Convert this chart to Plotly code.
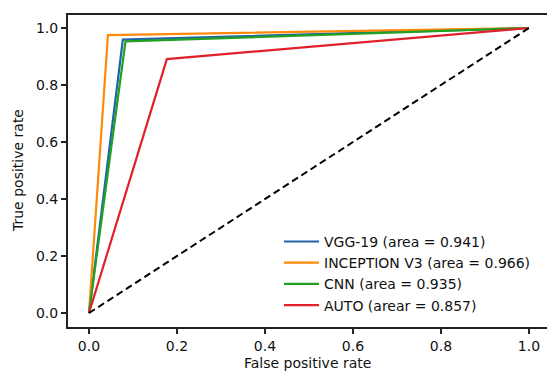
import plotly.graph_objects as go

# ROC data
series_names = ["VGG-19 (area = 0.941)", "INCEPTION V3 (area = 0.966)",
                "CNN (area = 0.935)", "AUTO (arear = 0.857)"]
fpr_vgg = [0.0, 0.077, 1.0]
tpr_vgg = [0.0, 0.959, 1.0]
fpr_inc = [0.0, 0.043, 1.0]
tpr_inc = [0.0, 0.975, 1.0]
fpr_cnn = [0.0, 0.083, 1.0]
tpr_cnn = [0.0, 0.953, 1.0]
fpr_auto = [0.0, 0.177, 1.0]
tpr_auto = [0.0, 0.891, 1.0]
diag_x = [0.0, 1.0]
diag_y = [0.0, 1.0]
tick_vals = [0.0, 0.2, 0.4, 0.6, 0.8, 1.0]
tick_text = ["0.0", "0.2", "0.4", "0.6", "0.8", "1.0"]
x_title = "False positive rate"
y_title = "True positive rate"

colors = ["#1f64a8", "#ff8a0a", "#22a022", "#e0202a"]
xs = [fpr_vgg, fpr_inc, fpr_cnn, fpr_auto]
ys = [tpr_vgg, tpr_inc, tpr_cnn, tpr_auto]

FONT = "DejaVu Sans"
INK = "#111111"
fig = go.Figure()
for name, x, y, c in zip(series_names, xs, ys, colors):
    fig.add_trace(go.Scatter(x=x, y=y, mode="lines", name=name,
                             line=dict(color=c, width=2.2)))
fig.add_trace(go.Scatter(x=diag_x, y=diag_y, mode="lines", showlegend=False,
                         line=dict(color="black", width=2, dash="7px,4px")))

axis_common = dict(tickvals=tick_vals, ticktext=tick_text, showgrid=False,
                   zeroline=False, showline=True, linecolor="#222222", linewidth=2,
                   ticks="outside", ticklen=5, tickwidth=1.5, tickcolor="#222222",
                   automargin=False, tickfont=dict(family=FONT, size=14, color=INK))

fig.update_layout(
    width=547, height=371,
    margin=dict(l=68, r=0, t=15, b=44),
    plot_bgcolor="white", paper_bgcolor="white",
    font=dict(family=FONT, size=14, color=INK),
    showlegend=True,
    legend=dict(x=0.4405, y=0.324, xanchor="left", yanchor="top",
                bgcolor="rgba(255,255,255,0)", borderwidth=0, itemwidth=35,
                font=dict(family=FONT, size=14, color=INK)),
    xaxis=dict(range=[-0.0477, 1.041], mirror=True, **axis_common),
    yaxis=dict(range=[-0.049, 1.0456], mirror=False, **axis_common),
    annotations=[
        dict(text=x_title, xref="paper", yref="paper", x=0.5, y=0, yshift=-36,
             xanchor="center", yanchor="middle", showarrow=False,
             font=dict(family=FONT, size=14, color=INK)),
        dict(text=y_title, xref="paper", yref="paper", x=0, y=0.5, xshift=-50,
             xanchor="center", yanchor="middle", textangle=-90, showarrow=False,
             font=dict(family=FONT, size=14, color=INK)),
    ],
)
fig.write_html("out.html", config={"displayModeBar": False},
               post_script="document.body.style.margin='0';document.body.style.padding='0';")
